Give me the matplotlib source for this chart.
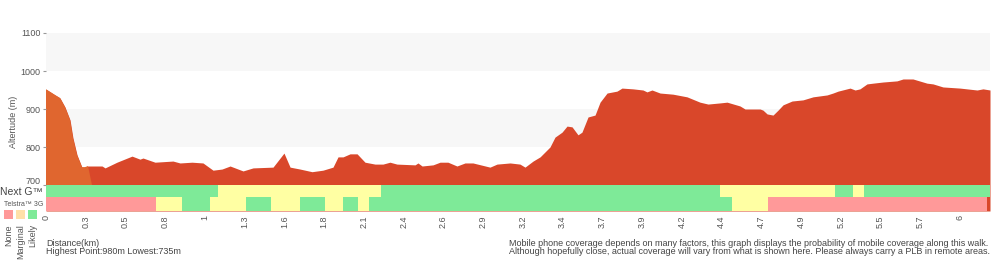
import numpy as np
import matplotlib.pyplot as plt
from matplotlib.patches import Rectangle
from matplotlib.transforms import ScaledTranslation

plt.rcParams['font.family'] = ['Liberation Sans', 'DejaVu Sans']

# Elevation profile (km, m)
dist = [0, 0.059, 0.092, 0.125, 0.158, 0.177, 0.204, 0.236, 0.256, 0.276,
        0.368, 0.388, 0.466, 0.565, 0.617, 0.637, 0.716, 0.834, 0.880, 0.959,
        1.031, 1.097, 1.156, 1.209, 1.294, 1.360, 1.491, 1.563, 1.603, 1.668,
        1.747, 1.819, 1.885, 1.918, 1.951, 1.997, 2.043, 2.095, 2.161, 2.213,
        2.259, 2.305, 2.424, 2.443, 2.470, 2.542, 2.588, 2.640, 2.699, 2.752,
        2.804, 2.916, 2.962, 3.048, 3.113, 3.146, 3.199, 3.245, 3.310, 3.343,
        3.389, 3.422, 3.455, 3.494, 3.520, 3.560, 3.606, 3.639, 3.685, 3.750,
        3.783, 3.855, 3.921, 3.947, 3.980, 4.033, 4.118, 4.210, 4.295, 4.348,
        4.427, 4.473, 4.558, 4.591, 4.690, 4.709, 4.736, 4.775, 4.808, 4.841,
        4.900, 4.972, 5.038, 5.130, 5.169, 5.202, 5.281, 5.314, 5.346, 5.392,
        5.432, 5.497, 5.589, 5.629, 5.694, 5.786, 5.826, 5.891, 6.003, 6.115,
        6.154, 6.200]
elev = [952, 937, 929, 905, 871, 824, 779, 747, 747, 750,
        750, 745, 760, 776, 768, 771, 760, 763, 758, 760,
        758, 739, 742, 750, 737, 745, 747, 784, 747, 742,
        735, 739, 747, 774, 774, 782, 782, 760, 755, 755,
        760, 755, 753, 758, 750, 753, 760, 760, 750, 758,
        758, 747, 755, 758, 755, 747, 763, 774, 800, 826,
        839, 855, 853, 832, 839, 879, 884, 918, 942, 947,
        955, 953, 950, 945, 950, 942, 939, 932, 918, 913,
        916, 918, 908, 900, 900, 897, 887, 884, 897, 911,
        921, 924, 932, 937, 942, 947, 955, 950, 953, 966,
        968, 971, 974, 979, 979, 968, 966, 958, 955, 950,
        953, 950]
first_leg_end = [0.276, 0.302]  # km where the first (lighter) leg ends: top, foot

# Coverage: segment boundaries (km) and state (0 none, 1 marginal, 2 likely)
nextg_edges = [0, 1.130, 2.200, 4.427, 5.182, 5.300, 5.373, 6.200]
nextg_state = [2, 1, 2, 1, 2, 1, 2]
g3_edges = [0, 0.722, 0.893, 1.077, 1.314, 1.478, 1.668, 1.832, 1.951,
            2.049, 2.121, 4.506, 4.742, 6.180]
g3_state = [0, 1, 2, 1, 2, 1, 2, 1, 2, 1, 2, 1, 0]

tick_km = np.arange(24) * 0.261
tick_labels = ['0', '0.3', '0.5', '0.8', '1', '1.3', '1.6', '1.8', '2.1', '2.4',
               '2.6', '2.9', '3.2', '3.4', '3.7', '3.9', '4.2', '4.4', '4.7',
               '4.9', '5.2', '5.5', '5.7', '6']

cov_colors = ['#ff9999', '#ffffa3', '#7eea98']
legend_colors = ['#ff9999', '#ffe0a8', '#7eea98']
grey = '#555555'

base = 631.6     # bottom of the 3G strip
band_h = [31.6, 36.8]  # Next G strip, 3G strip heights in metres

fig = plt.figure(figsize=(10, 2.6), dpi=100)
ax = fig.add_axes([0.046, 49/260, 0.944, 178/260])

# alternate grey bands
ax.axhspan(800, 900, color='#f7f7f7', lw=0)
ax.axhspan(1000, 1100, color='#f7f7f7', lw=0)

ax.fill_between(dist, elev, base, color='#d9472a', lw=0)
d = np.array(dist)
e = np.array(elev)
k = d <= first_leg_end[0]
xs = list(d[k]) + [first_leg_end[1], first_leg_end[1], 0]
ys = list(e[k]) + [700, base, base]
ax.fill(xs, ys, color='#e0662f', lw=0)

# coverage strips
for edges, state, y0, h in [(nextg_edges, nextg_state, 700 - band_h[0], band_h[0]),
                            (g3_edges, g3_state, base, band_h[1])]:
    for i, s in enumerate(state):
        ax.add_patch(Rectangle((edges[i], y0), edges[i+1] - edges[i], h,
                               color=cov_colors[s], lw=0))

ax.set_xlim(0, 6.2)
ax.set_ylim(base, 1100)
ax.set_yticks([700, 800, 900, 1000, 1100])
ax.tick_params(axis='y', labelsize=6.5, labelcolor=grey, color='#999999',
               length=2, pad=2)
ax.set_xticks(tick_km)
ax.set_xticklabels(tick_labels, rotation=90, va='top')
ax.tick_params(axis='x', labelsize=6.5, labelcolor=grey, length=0, pad=3)
for s in ax.spines.values():
    s.set_visible(False)

# nudge the 700 label up so it sits above the "Next G" caption
lab700 = ax.get_yticklabels()[0]
lab700.set_transform(lab700.get_transform() + ScaledTranslation(0, 3/72, fig.dpi_scale_trans))

ax.set_ylabel('Altertude (m)', fontsize=6.5, color=grey, labelpad=2)

# left legend
fig.text(0.0, 1 - 192/260, 'Next G™', fontsize=7.5, color='#444444', va='center')
fig.text(0.004, 1 - 204/260, 'Telstra™ 3G', fontsize=5, color=grey, va='center')
for i, (c, lab) in enumerate(zip(legend_colors, ['None', 'Marginal', 'Likely'])):
    x0 = 4 + i*12
    fig.add_artist(Rectangle((x0/1000, 1 - 219/260), 9/1000, 9/260, color=c,
                             lw=0, transform=fig.transFigure))
    fig.text((x0 + 4.5)/1000, 1 - 224/260, lab, rotation=90, fontsize=6.5,
             color=grey, ha='center', va='top')

fig.text(0.046, 1 - 243/260, 'Distance(km)', fontsize=6.5, color='#444444', va='center')
fig.text(0.046, 1 - 252/260, 'Highest Point:980m Lowest:735m', fontsize=6.5,
         color='#444444', va='center')
fig.text(0.509, 1 - 243/260, 'Mobile phone coverage depends on many factors, this graph '
         'displays the probability of mobile coverage along this walk.', fontsize=6.5,
         color='#444444', va='center')
fig.text(0.509, 1 - 252/260, 'Although hopefully close, actual coverage will vary from '
         'what is shown here. Please always carry a PLB in remote areas.', fontsize=6.5,
         color='#444444', va='center')

fig.savefig('out.png', dpi=100)
